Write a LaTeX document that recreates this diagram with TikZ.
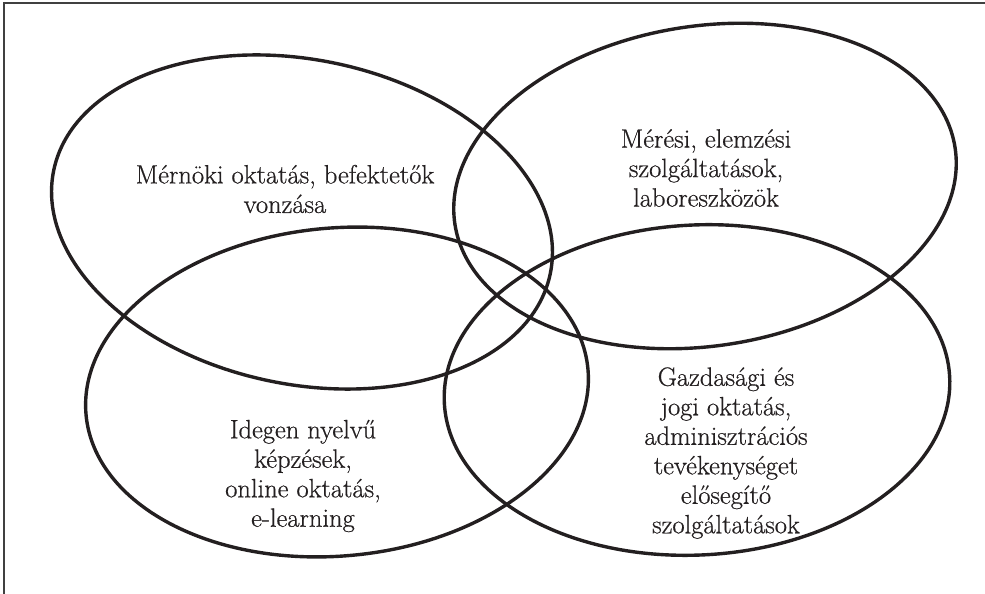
\documentclass[tikz,border=0pt]{standalone}
\usepackage{fontspec}
\newfontfamily\lblfont{Latin Modern Roman}[FakeBold=0.6]
\definecolor{ink}{HTML}{231F20}
\tikzset{
  venn/.style={draw=ink, line width=3.4pt},
  lbl/.style={text=ink, align=center, font=\lblfont\fontsize{26.5}{29.5}\selectfont, inner sep=0pt},
  frameline/.style={draw=black!75, line width=1.4pt}
}
\begin{document}
\begin{tikzpicture}[x=1pt,y=1pt]
\useasboundingbox (0,0) rectangle (985,594);
\coordinate (fb) at (4,0);
\coordinate (fc) at (4,591);
\coordinate (fr) at (985,591);
\draw[frameline] (fb) -- (fc) -- (fr);
% ellipses
\draw[venn] (302,372) ellipse [x radius=253.6pt, y radius=162.2pt, rotate=-11.8];
\draw[venn] (705,408) ellipse [x radius=253pt, y radius=160pt, rotate=8.7];
\draw[venn] (337,202) ellipse [x radius=252pt, y radius=164pt, rotate=5.2];
\draw[venn] (697,204) ellipse [x radius=253pt, y radius=165pt, rotate=3];
% labels
\node[lbl] (t1) at (285,405) {Mérnöki oktatás, befektetők\\vonzása};
\node[lbl] (t2) at (706,426) {Mérési, elemzési\\szolgáltatások,\\laboreszközök};
\node[lbl] (t3) at (303,118) {Idegen nyelvű\\képzések,\\online oktatás,\\e-learning};
\node[lbl] (t4) at (726,141) {Gazdasági és\\jogi oktatás,\\adminisztrációs\\tevékenységet\\elősegítő\\szolgáltatások};
\end{tikzpicture}
\end{document}
